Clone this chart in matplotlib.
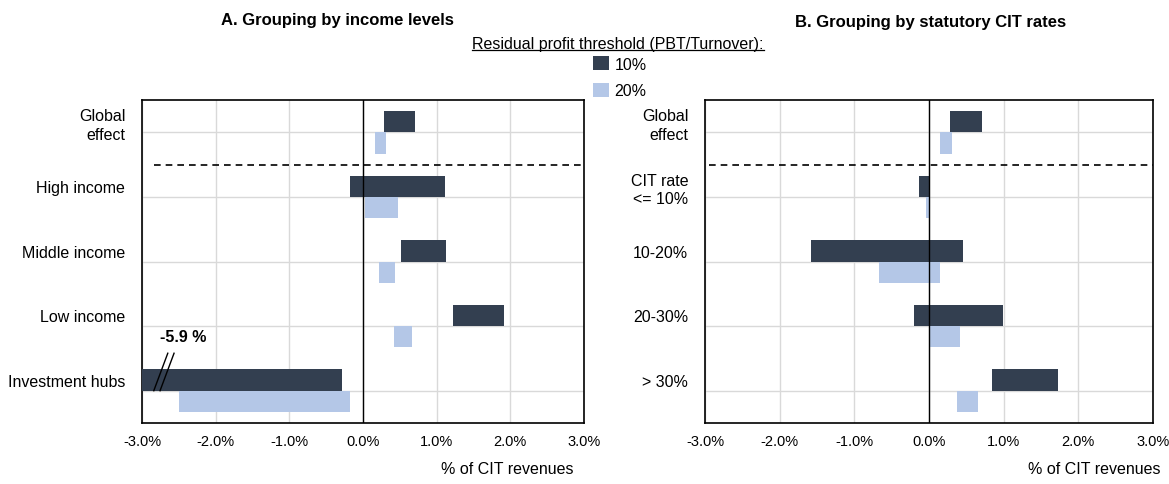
import matplotlib
matplotlib.use("Agg")
import matplotlib.pyplot as plt
from matplotlib import font_manager
from matplotlib.patches import Patch
from matplotlib.lines import Line2D

# font: narrow Arial look if available
names = {f.name for f in font_manager.fontManager.ttflist}
if "Liberation Sans Narrow" in names:
    plt.rcParams["font.family"] = ["Liberation Sans Narrow", "DejaVu Sans"]
else:
    plt.rcParams["font.family"] = ["Liberation Sans", "DejaVu Sans"]

# data (start, end) in % of CIT revenues
cats_a = ["Global\neffect", "High income", "Middle income", "Low income", "Investment hubs"]
a10_start = [0.28, -0.17, 0.51, 1.22, -5.9]
a10_end = [0.70, 1.11, 1.12, 1.92, -0.28]
a20_start = [0.16, 0.03, 0.22, 0.42, -2.50]
a20_end = [0.31, 0.47, 0.43, 0.66, -0.17]

cats_b = ["Global\neffect", "CIT rate\n<= 10%", "10-20%", "20-30%", "> 30%"]
b10_start = [0.28, -0.14, -1.58, -0.20, 0.85]
b10_end = [0.71, 0.02, 0.46, 0.99, 1.73]
b20_start = [0.15, -0.04, -0.67, 0.00, 0.37]
b20_end = [0.31, 0.00, 0.15, 0.41, 0.66]

xticks = [-3, -2, -1, 0, 1, 2, 3]
xticklabels = ["-3.0%", "-2.0%", "-1.0%", "0.0%", "1.0%", "2.0%", "3.0%"]

dark = "#333F50"
light = "#B4C7E7"
grid_c = "#D9D9D9"

W, H = 1169, 485
fig = plt.figure(figsize=(W / 100, H / 100), dpi=100)


def panel(rect, cats, s10, e10, s20, e20, dash_start):
    ax = fig.add_axes(rect)
    n = len(cats)
    y = list(range(n))
    h = 0.33
    ax.barh([i - h / 2 for i in y], [e - s for s, e in zip(s10, e10)], left=s10,
            height=h, color=dark, zorder=3)
    ax.barh([i + h / 2 for i in y], [e - s for s, e in zip(s20, e20)], left=s20,
            height=h, color=light, zorder=3)
    ax.set_xlim(-3, 3)
    ax.set_ylim(n - 0.5, -0.5)
    ax.set_xticks(xticks)
    ax.set_xticklabels(xticklabels, fontsize=10.5)
    ax.set_yticks([i - h / 2 for i in y])
    ax.set_yticklabels(cats, fontsize=11.5, linespacing=1.3)
    ax.tick_params(axis="x", length=0, pad=8)
    ax.tick_params(axis="y", length=0, pad=12)
    ax.grid(axis="x", color=grid_c, lw=1, zorder=0)
    for i in y:
        ax.axhline(i, color=grid_c, lw=1, zorder=1)
    ax.axvline(0, color="black", lw=1, zorder=4)
    ax.axhline(0.5, xmin=dash_start, xmax=1, color="black", lw=1.2,
               ls=(0, (4, 3)), zorder=4)
    for sp in ax.spines.values():
        sp.set_linewidth(1.2)
    return ax


axA = panel([142 / W, 1 - 424 / H, 442 / W, 323 / H], cats_a,
            a10_start, a10_end, a20_start, a20_end, 0.027)
axB = panel([705 / W, 1 - 424 / H, 448 / W, 323 / H], cats_b,
            b10_start, b10_end, b20_start, b20_end, 0.01)

# titles and axis labels at fixed figure positions
fig.text(337 / W, 1 - 21 / H, "A. Grouping by income levels", ha="center", va="center",
         fontsize=12, fontweight="bold")
fig.text(931 / W, 1 - 22 / H, "B. Grouping by statutory CIT rates", ha="center", va="center",
         fontsize=12, fontweight="bold")
fig.text(507 / W, 1 - 470 / H, "% of CIT revenues", ha="center", va="center", fontsize=11.5)
fig.text(1094 / W, 1 - 470 / H, "% of CIT revenues", ha="center", va="center", fontsize=11.5)

# clipped bar annotation
axA.text(-2.44, 3.16, "-5.9 %", ha="center", va="center", fontsize=11.5, fontweight="bold",
         zorder=6)
for dx in (0, 0.085):
    axA.plot([-2.84 + dx, -2.65 + dx], [4.0, 3.42], color="black", lw=1, zorder=6,
             clip_on=False)

# legend
leg_title = fig.text(618 / W, 1 - 44 / H, "Residual profit threshold (PBT/Turnover):",
                     ha="center", va="center", fontsize=11.5)
fig.canvas.draw()
bb = leg_title.get_window_extent().transformed(fig.transFigure.inverted())
fig.add_artist(Line2D([bb.x0, bb.x1], [bb.y0 + 0.002, bb.y0 + 0.002],
                      transform=fig.transFigure, color="black", lw=0.9))
handles = [Patch(facecolor=dark, label="10%"), Patch(facecolor=light, label="20%")]
fig.legend(handles=handles, loc="upper left", bbox_to_anchor=(593 / W, 1 - 57 / H),
           frameon=False, fontsize=11.5, handlelength=1.0, handleheight=1.0,
           handletextpad=0.35, labelspacing=0.7, borderpad=0, borderaxespad=0)

fig.savefig("out.png", dpi=100)
